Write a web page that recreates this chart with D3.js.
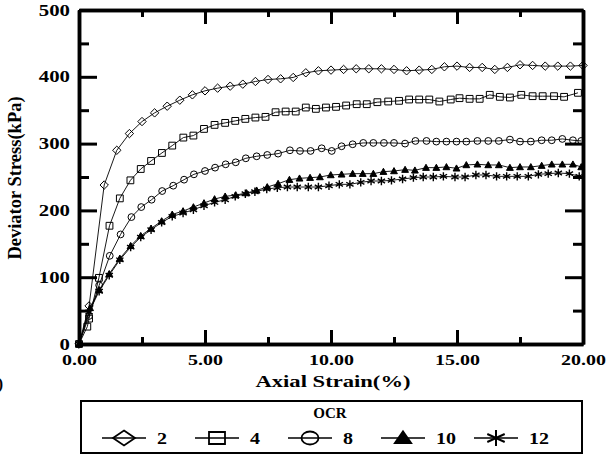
<!DOCTYPE html>
<html>
<head>
<meta charset="utf-8">
<script src="https://cdn.jsdelivr.net/npm/d3@7"></script>
<style>
  body { margin: 0; background: #fff; }
  svg { display: block; }
  text { font-family: "Liberation Serif", "Times New Roman", serif; font-weight: bold; fill: #000; }
</style>
</head>
<body>
<div id="chart"></div>
<script>
// OCR = 2
var strain2 = [0, 0.4, 1.0, 1.5, 2.0, 2.5, 3.0, 3.5, 4.0, 4.5, 5.0, 5.5, 6.0, 6.5, 7.0, 7.5, 8.0, 8.5, 9.0, 9.5,
  10.0, 10.5, 11.0, 11.5, 12.0, 12.5, 13.0, 13.5, 14.0, 14.5, 15.0, 15.5, 16.0, 16.5, 17.0, 17.5, 18.0, 18.5, 19.0, 19.5, 20.0]
var stress2 = [0, 57, 238, 290, 315, 333, 346, 356, 365, 373, 379, 383, 386, 389, 393, 396, 397, 399, 406, 409,
  410, 411, 412, 412, 412, 411, 409, 410, 411, 415, 416, 414, 414, 411, 414, 418, 417, 416, 416, 416, 417]

// OCR = 4
var strain4 = [0, 0.33, 0.4, 0.79, 1.21, 1.62, 2.04, 2.45, 2.86, 3.29, 3.7, 4.14, 4.54, 4.96, 5.38, 5.8, 6.2, 6.6, 7.0, 7.4,
  7.8, 8.2, 8.6, 9.0, 9.4, 9.8, 10.2, 10.6, 11.02, 11.42, 11.84, 12.27, 12.7, 13.1, 13.5, 13.9, 14.3, 14.75, 15.1, 15.5,
  15.9, 16.3, 16.7, 17.1, 17.55, 18.0, 18.4, 18.85, 19.25, 19.8]
var stress4 = [0, 26, 38, 99, 177, 218, 245, 262, 274, 286, 297, 309, 312, 322, 328, 331, 334, 337, 339, 340,
  347, 348, 348, 354, 352, 354, 355, 357, 359, 359, 362, 363, 364, 366, 366, 366, 363, 366, 368, 367,
  367, 373, 370, 369, 373, 371, 371, 371, 370, 376]

// OCR = 8
var strain8 = [0, 0.4, 0.8, 1.22, 1.65, 2.08, 2.47, 2.88, 3.3, 3.74, 4.17, 4.56, 5.0, 5.4, 5.82, 6.22, 6.62, 7.05, 7.47, 7.9,
  8.37, 8.77, 9.19, 9.63, 10.03, 10.42, 10.86, 11.28, 11.68, 12.1, 12.5, 12.94, 13.35, 13.79, 14.18, 14.58, 14.98, 15.37, 15.81, 16.24,
  16.66, 17.1, 17.5, 17.93, 18.36, 18.76, 19.18, 19.6, 19.93]
var stress8 = [0, 42, 88, 132, 164, 190, 205, 216, 229, 237, 246, 254, 259, 264, 269, 272, 278, 281, 283, 285,
  290, 289, 289, 293, 289, 296, 299, 301, 301, 301, 301, 300, 304, 304, 303, 303, 303, 303, 304, 304,
  304, 306, 303, 303, 305, 305, 307, 305, 304]

// OCR = 10
var strain10 = [0, 0.44, 0.8, 1.2, 1.62, 2.05, 2.45, 2.86, 3.28, 3.7, 4.13, 4.54, 4.96, 5.38, 5.8, 6.22, 6.65, 7.05, 7.47, 7.9,
  8.35, 8.75, 9.17, 9.56, 9.99, 10.42, 10.86, 11.26, 11.68, 12.08, 12.5, 12.94, 13.33, 13.77, 14.18, 14.58, 14.98, 15.37, 15.81, 16.24,
  16.66, 17.1, 17.5, 17.93, 18.36, 18.76, 19.18, 19.6, 19.93]
var stress10 = [0, 54, 81, 105, 128, 147, 162, 173, 184, 194, 199, 205, 211, 217, 221, 223, 226, 230, 235, 240,
  246, 248, 249, 250, 253, 254, 255, 255, 255, 258, 259, 261, 260, 264, 264, 265, 263, 268, 269, 268,
  268, 264, 265, 265, 267, 269, 269, 269, 265]

// OCR = 12
var strain12 = [0, 0.4, 0.8, 1.2, 1.62, 2.05, 2.45, 2.86, 3.28, 3.7, 4.13, 4.54, 4.96, 5.38, 5.8, 6.2, 6.6, 6.98, 7.45, 7.87,
  8.27, 8.66, 9.1, 9.5, 9.92, 10.33, 10.75, 11.18, 11.59, 12.0, 12.4, 12.84, 13.27, 13.66, 14.06, 14.46, 14.92, 15.32, 15.75, 16.15,
  16.57, 16.97, 17.39, 17.83, 18.23, 18.62, 19.02, 19.46, 19.85]
var stress12 = [0, 48, 79, 103, 126, 145, 160, 171, 182, 191, 196, 201, 207, 212, 216, 221, 225, 228, 232, 234,
  235, 235, 235, 235, 237, 239, 239, 242, 244, 244, 245, 247, 249, 250, 250, 251, 250, 250, 253, 253,
  251, 251, 251, 251, 254, 255, 256, 255, 251]

var ocrLabels = ['2', '4', '8', '10', '12']
var markerTypes = ['diamond', 'square', 'circle', 'triangle', 'asterisk']
var xMajor = [0, 5, 10, 15, 20]
var xMinor = [2.5, 7.5, 12.5, 17.5]
var yMajor = [0, 100, 200, 300, 400, 500]
var yMinor = [50, 150, 250, 350, 450]

var width = 615
var height = 456
var plot = { left: 79, right: 583, top: 10, bottom: 344 }

var svg = d3.select('#chart').append('svg')
  .attr('width', width)
  .attr('height', height)

var x = d3.scaleLinear().domain([0, 20]).range([plot.left, plot.right])
var y = d3.scaleLinear().domain([0, 500]).range([plot.bottom, plot.top])

var series = [
  { strain: strain2, stress: stress2 },
  { strain: strain4, stress: stress4 },
  { strain: strain8, stress: stress8 },
  { strain: strain10, stress: stress10 },
  { strain: strain12, stress: stress12 }
].map(function(s, i) {
  return {
    label: ocrLabels[i],
    marker: markerTypes[i],
    points: s.strain.map(function(v, j) { return [v, s.stress[j]] })
  }
})

// stretch horizontal text a bit, the source image is wider than tall
function stretch(sel, k) {
  sel.each(function() {
    var w = this.getComputedTextLength()
    d3.select(this).attr('textLength', w * k).attr('lengthAdjust', 'spacingAndGlyphs')
  })
}

// marker path, rx / ry are half width / half height
function markerPath(type, rx, ry) {
  var p = d3.path()
  if (type === 'diamond') {
    p.moveTo(0, -ry); p.lineTo(rx, 0); p.lineTo(0, ry); p.lineTo(-rx, 0); p.closePath()
  } else if (type === 'square') {
    p.rect(-rx, -ry, rx * 2, ry * 2)
  } else if (type === 'circle') {
    p.ellipse ? p.ellipse(0, 0, rx, ry, 0, 0, 2 * Math.PI) : p.arc(0, 0, rx, 0, 2 * Math.PI)
  } else if (type === 'triangle') {
    p.moveTo(0, -ry); p.lineTo(rx, ry * 0.8); p.lineTo(-rx, ry * 0.8); p.closePath()
  } else if (type === 'asterisk') {
    p.moveTo(0, -ry); p.lineTo(0, ry)
    p.moveTo(-rx * 0.87, -ry * 0.5); p.lineTo(rx * 0.87, ry * 0.5)
    p.moveTo(-rx * 0.87, ry * 0.5); p.lineTo(rx * 0.87, -ry * 0.5)
  }
  return p.toString()
}

function circlePath(rx, ry) {
  return 'M' + (-rx) + ',0A' + rx + ',' + ry + ' 0 1,0 ' + rx + ',0A' + rx + ',' + ry + ' 0 1,0 ' + (-rx) + ',0Z'
}

function drawMarker(g, type, rx, ry, sw) {
  var d = type === 'circle' ? circlePath(rx, ry) : markerPath(type, rx, ry)
  g.append('path')
    .attr('d', d)
    .attr('fill', type === 'triangle' ? '#000' : 'none')
    .attr('stroke', '#000')
    .attr('stroke-width', sw)
    .attr('stroke-linejoin', 'miter')
}

// data lines and markers
var line = d3.line()
  .x(function(d) { return x(d[0]) })
  .y(function(d) { return y(d[1]) })

var seriesG = svg.append('g').attr('class', 'series')
series.forEach(function(s) {
  var g = seriesG.append('g')
  g.append('path')
    .attr('d', line(s.points))
    .attr('fill', 'none')
    .attr('stroke', '#000')
    .attr('stroke-width', 0.9)
  g.selectAll('g.pt')
    .data(s.points)
    .enter()
    .append('g')
    .attr('class', 'pt')
    .attr('transform', function(d) { return 'translate(' + x(d[0]) + ',' + y(d[1]) + ')' })
    .each(function() {
      var r = s.marker === 'diamond' ? 4.2 : (s.marker === 'asterisk' ? 4.2 : 3.4)
      drawMarker(d3.select(this), s.marker, r, r, s.marker === 'asterisk' ? 1.4 : 1)
    })
})

// frame and ticks (inward)
function styleAxis(g) {
  g.selectAll('path.domain').attr('stroke', '#000').attr('stroke-width', 3.5)
  g.selectAll('.tick line').attr('stroke', '#000').attr('stroke-width', 3)
}

var leftAxis = svg.append('g')
  .attr('transform', 'translate(' + plot.left + ',0)')
  .call(d3.axisLeft(y).tickValues(yMajor).tickSize(-18).tickSizeOuter(0).tickPadding(9))
styleAxis(leftAxis)
leftAxis.selectAll('text')
  .attr('font-size', 16)
  .attr('fill', '#000')
  .call(stretch, 1.3)

svg.append('g')
  .attr('transform', 'translate(' + plot.left + ',0)')
  .call(d3.axisLeft(y).tickValues(yMinor).tickSize(-10).tickSizeOuter(0).tickFormat(''))
  .call(styleAxis)

svg.append('g')
  .attr('transform', 'translate(' + plot.right + ',0)')
  .call(d3.axisRight(y).tickValues(yMajor).tickSize(-18).tickSizeOuter(0).tickFormat(''))
  .call(styleAxis)

svg.append('g')
  .attr('transform', 'translate(' + plot.right + ',0)')
  .call(d3.axisRight(y).tickValues(yMinor).tickSize(-10).tickSizeOuter(0).tickFormat(''))
  .call(styleAxis)

var bottomAxis = svg.append('g')
  .attr('transform', 'translate(0,' + plot.bottom + ')')
  .call(d3.axisBottom(x).tickValues(xMajor).tickSize(-14).tickSizeOuter(0).tickPadding(10.5).tickFormat(d3.format('.2f')))
styleAxis(bottomAxis)
bottomAxis.selectAll('text')
  .attr('font-size', 15)
  .attr('fill', '#000')
  .call(stretch, 1.33)

svg.append('g')
  .attr('transform', 'translate(0,' + plot.bottom + ')')
  .call(d3.axisBottom(x).tickValues(xMinor).tickSize(-7).tickSizeOuter(0).tickFormat(''))
  .call(styleAxis)

svg.append('g')
  .attr('transform', 'translate(0,' + plot.top + ')')
  .call(d3.axisTop(x).tickValues(xMajor).tickSize(-14).tickSizeOuter(0).tickFormat(''))
  .call(styleAxis)

svg.append('g')
  .attr('transform', 'translate(0,' + plot.top + ')')
  .call(d3.axisTop(x).tickValues(xMinor).tickSize(-7).tickSizeOuter(0).tickFormat(''))
  .call(styleAxis)

// axis titles
svg.append('text')
  .attr('x', (plot.left + plot.right) / 2 + 2)
  .attr('y', 387)
  .attr('text-anchor', 'middle')
  .attr('font-size', 17)
  .text('Axial Strain(%)')
  .call(stretch, 1.33)

svg.append('text')
  .attr('transform', 'translate(21,178) rotate(-90)')
  .attr('text-anchor', 'middle')
  .attr('font-size', 18.5)
  .text('Deviator Stress(kPa)')

// panel label cut off at the left edge
svg.append('text')
  .attr('x', 3)
  .attr('y', 389)
  .attr('text-anchor', 'end')
  .attr('font-size', 16)
  .text('(a)')

// legend
var legend = svg.append('g').attr('class', 'legend')
legend.append('rect')
  .attr('x', 81)
  .attr('y', 401)
  .attr('width', 501)
  .attr('height', 52)
  .attr('fill', 'none')
  .attr('stroke', '#000')
  .attr('stroke-width', 2)

legend.append('text')
  .attr('x', 330)
  .attr('y', 418)
  .attr('text-anchor', 'middle')
  .attr('font-size', 15)
  .text('OCR')

var legendX = d3.scalePoint().domain(ocrLabels).range([124, 496])
var item = legend.selectAll('g.item')
  .data(series)
  .enter()
  .append('g')
  .attr('class', 'item')
  .attr('transform', function(d) { return 'translate(' + legendX(d.label) + ',438)' })

item.append('line')
  .attr('x1', -22)
  .attr('x2', 22)
  .attr('stroke', '#000')
  .attr('stroke-width', 1.5)

item.each(function(d) {
  var g = d3.select(this)
  if (d.marker === 'diamond') drawMarker(g, d.marker, 11, 7.5, 1.8)
  else if (d.marker === 'square') drawMarker(g, d.marker, 8, 6, 1.8)
  else if (d.marker === 'circle') drawMarker(g, d.marker, 8.5, 6.5, 1.8)
  else if (d.marker === 'triangle') drawMarker(g, d.marker, 7.5, 6, 2.5)
  else drawMarker(g, d.marker, 10, 8, 2)
})

item.append('text')
  .attr('x', 33)
  .attr('y', 6)
  .attr('font-size', 16)
  .text(function(d) { return d.label })
  .call(stretch, 1.25)
</script>
</body>
</html>
